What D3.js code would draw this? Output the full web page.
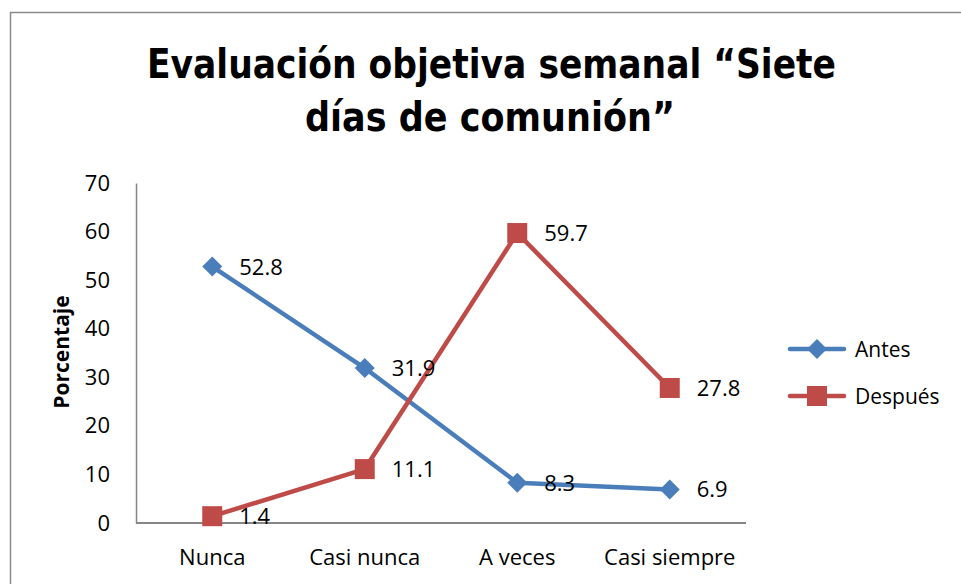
<!DOCTYPE html>
<html>
<head>
<meta charset="utf-8">
<script src="https://cdn.jsdelivr.net/npm/d3@7"></script>
<style>
  body { margin: 0; background: #fff; }
  text { font-family: "Open Sans", "Noto Sans", sans-serif; }
</style>
</head>
<body>
<div id="chart"></div>
<script>
var categories = ["Nunca", "Casi nunca", "A veces", "Casi siempre"]
var antes = [52.8, 31.9, 8.3, 6.9]
var despues = [1.4, 11.1, 59.7, 27.8]
var yTicks = [0, 10, 20, 30, 40, 50, 60, 70]
var seriesNames = ["Antes", "Después"]
var titleLines = ["Evaluación objetiva semanal “Siete", "días de comunión”"]

var width = 961, height = 584
var blue = "#4A7EBB", red = "#BE4B48"

var svg = d3.select("#chart").append("svg")
  .attr("width", width)
  .attr("height", height)

// chart border (only left and top edges are in frame)
svg.append("rect")
  .attr("x", 10.5).attr("y", 12.5)
  .attr("width", 980).attr("height", 600)
  .attr("fill", "none")
  .attr("stroke", "#8c8c8c")
  .attr("stroke-width", 1.5)

// title
var titleWidths = [689, 370]
svg.selectAll(".title")
  .data(titleLines)
  .join("text")
  .attr("class", "title")
  .attr("x", (d, i) => i === 0 ? 147 : 305)
  .attr("y", (d, i) => 78 + i * 53)
  .attr("textLength", (d, i) => titleWidths[i])
  .attr("lengthAdjust", "spacingAndGlyphs")
  .attr("font-weight", "bold")
  .attr("font-size", 41)
  .style("font-family", "'DejaVu Sans Condensed', 'Open Sans', sans-serif")
  .text(d => d)

var x = d3.scaleBand().domain(categories).range([136, 746])
var y = d3.scaleLinear().domain([0, 70]).range([523, 183])
var cx = d => x(d) + x.bandwidth() / 2

// axes
var yAxis = svg.append("g")
  .attr("transform", "translate(136,0)")
  .call(d3.axisLeft(y).tickValues(yTicks).tickSize(0).tickPadding(26))
yAxis.select(".domain").attr("stroke", "#868686").attr("stroke-width", 1.5)
yAxis.selectAll("text").attr("font-size", 22).attr("fill", "#000")
  .style("font-family", "'Open Sans', sans-serif")

var xAxis = svg.append("g")
  .attr("transform", "translate(0,523)")
  .call(d3.axisBottom(x).tickSize(0))
xAxis.select(".domain").attr("stroke", "#868686").attr("stroke-width", 2)
  .attr("d", "M136,0H746")
xAxis.selectAll("text").attr("font-size", 22).attr("fill", "#000")
  .attr("dy", null).attr("y", 42)
  .style("font-family", "'Open Sans', sans-serif")

svg.append("text")
  .attr("transform", "translate(69,352) rotate(-90)")
  .attr("text-anchor", "middle")
  .attr("font-weight", "bold")
  .attr("font-size", 21)
  .text("Porcentaje")

var series = [
  { name: seriesNames[0], values: antes, color: blue, marker: "diamond" },
  { name: seriesNames[1], values: despues, color: red, marker: "square" }
]

var line = d3.line()
  .x((d, i) => cx(categories[i]))
  .y(d => y(d))

var drawMarker = function (g, type, color) {
  if (type === "diamond") {
    g.append("path").attr("d", "M0,-10L10,0L0,10L-10,0Z").attr("fill", color)
  } else {
    g.append("rect").attr("x", -10).attr("y", -10).attr("width", 20).attr("height", 20).attr("fill", color)
  }
}

series.forEach(function (s) {
  svg.append("path")
    .datum(s.values)
    .attr("fill", "none")
    .attr("stroke", s.color)
    .attr("stroke-width", 4.5)
    .attr("stroke-linejoin", "round")
    .attr("d", line)
})

series.forEach(function (s) {
  s.values.forEach(function (v, i) {
    var g = svg.append("g").attr("transform", `translate(${cx(categories[i])},${y(v)})`)
    drawMarker(g, s.marker, s.color)
  })
})

series.forEach(function (s) {
  svg.selectAll(null)
    .data(s.values)
    .join("text")
    .attr("x", (d, i) => cx(categories[i]) + 27)
    .attr("y", d => y(d) + 8)
    .attr("font-size", 22)
    .text(d => d.toFixed(1))
})

// legend
series.forEach(function (s, i) {
  var g = svg.append("g").attr("transform", `translate(790,${349 + i * 47})`)
  g.append("line").attr("x1", 0).attr("x2", 54).attr("stroke", s.color).attr("stroke-width", 4.5)
    .attr("stroke-linecap", "round")
  var m = g.append("g").attr("transform", "translate(27,0)")
  drawMarker(m, s.marker, s.color)
  g.append("text").attr("x", 65).attr("y", 8).attr("font-size", 21).text(s.name)
})
</script>
</body>
</html>
